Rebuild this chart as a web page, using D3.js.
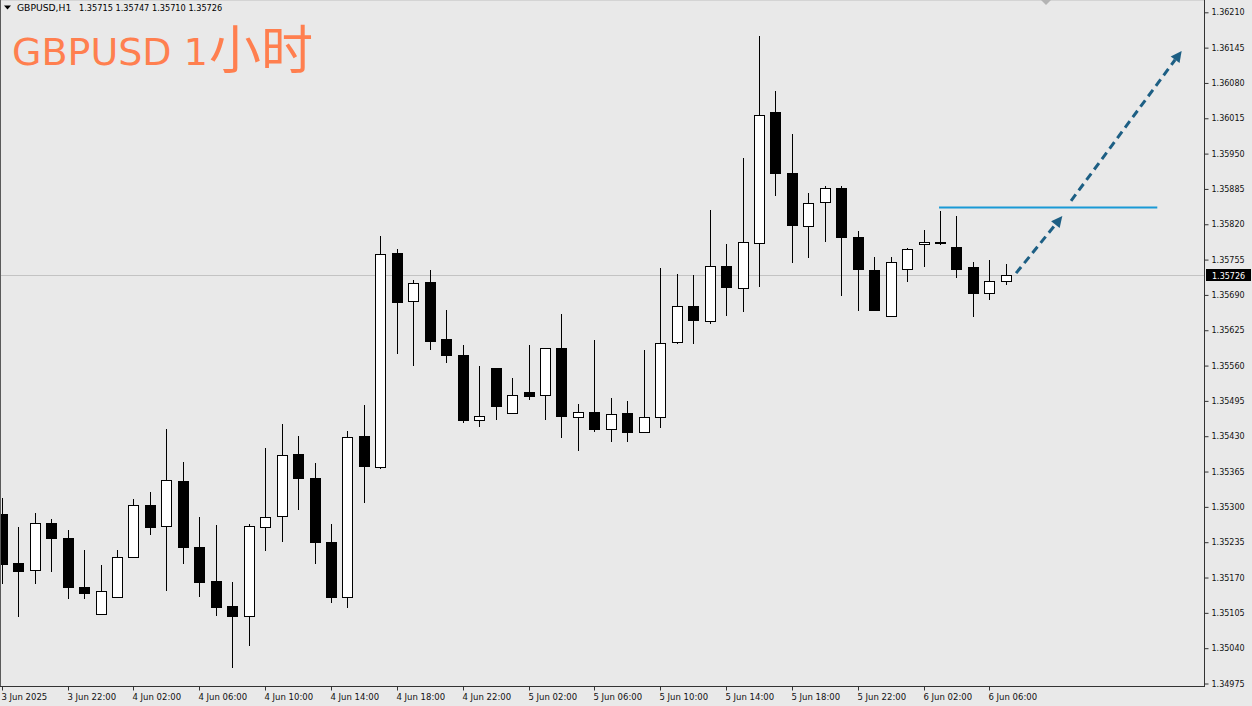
<!DOCTYPE html>
<html>
<head>
<meta charset="utf-8">
<script src="https://cdn.jsdelivr.net/npm/d3@7"></script>
<style>
  html, body { margin: 0; padding: 0; background: #e9e9e9; }
  svg { display: block; }
</style>
</head>
<body>
<script>
// ---------- DATA ----------
const opens = [1.35286,1.35196,1.35184,1.35270,1.35242,1.35152,1.35103,1.35134,1.35207,1.35303,
1.35264,1.35348,1.35227,1.35164,1.35117,1.35099,1.35263,1.35283,1.35398,1.35354,
1.35236,1.35135,1.35430,1.35374,1.35767,1.35678,1.35713,1.35608,1.35579,1.35459,
1.35555,1.35473,1.35511,1.35505,1.35593,1.35465,1.35474,1.35444,1.35472,1.35437,
1.35465,1.35603,1.35669,1.35642,1.35744,1.35702,1.35786,1.36027,1.35915,1.35816,
1.35861,1.35887,1.35796,1.35735,1.35651,1.35737,1.35783,1.35787,1.35778,1.35742,
1.35693,1.35715];
const highs = [1.35316,1.35263,1.35289,1.35278,1.35257,1.35221,1.35193,1.35221,1.35314,1.35328,
1.35443,1.35382,1.35282,1.35266,1.35161,1.35269,1.35409,1.35452,1.35431,1.35380,
1.35269,1.35439,1.35487,1.35798,1.35775,1.35718,1.35736,1.35662,1.35597,1.35559,
1.35555,1.35538,1.35597,1.35593,1.35654,1.35489,1.35607,1.35500,1.35494,1.35588,
1.35739,1.35728,1.35726,1.35846,1.35783,1.35942,1.36166,1.36065,1.35986,1.35877,
1.35891,1.35891,1.35807,1.35760,1.35760,1.35777,1.35809,1.35845,1.35836,1.35750,
1.35754,1.35747];
const lows = [1.35160,1.35099,1.35159,1.35182,1.35133,1.35133,1.35103,1.35134,1.35207,1.35250,
1.35147,1.35197,1.35136,1.35101,1.35005,1.35045,1.35220,1.35237,1.35296,1.35196,
1.35125,1.35116,1.35309,1.35372,1.35584,1.35561,1.35590,1.35567,1.35457,1.35449,
1.35462,1.35473,1.35498,1.35462,1.35428,1.35404,1.35440,1.35422,1.35422,1.35437,
1.35447,1.35602,1.35602,1.35638,1.35653,1.35660,1.35706,1.35873,1.35751,1.35760,
1.35789,1.35690,1.35662,1.35662,1.35651,1.35715,1.35744,1.35783,1.35723,1.35651,
1.35682,1.35710];
const closes = [1.35194,1.35182,1.35270,1.35243,1.35152,1.35142,1.35145,1.35208,1.35304,1.35263,
1.35350,1.35226,1.35161,1.35116,1.35099,1.35265,1.35282,1.35395,1.35353,1.35235,
1.35135,1.35429,1.35376,1.35765,1.35677,1.35711,1.35605,1.35580,1.35459,1.35467,
1.35486,1.35506,1.35504,1.35593,1.35467,1.35474,1.35443,1.35470,1.35437,1.35465,
1.35602,1.35670,1.35643,1.35744,1.35704,1.35788,1.36021,1.35915,1.35818,1.35860,
1.35886,1.35797,1.35737,1.35662,1.35750,1.35775,1.35788,1.35786,1.35738,1.35693,
1.35716,1.35726];

const priceTicks = [1.36210,1.36145,1.36080,1.36015,1.35950,1.35885,1.35820,1.35755,1.35690,
1.35625,1.35560,1.35495,1.35430,1.35365,1.35300,1.35235,1.35170,1.35105,1.35040,1.34975];
const timeTickBars = [0,4,8,12,16,20,24,28,32,36,40,44,48,52,56,60];
const timeTickLabels = ["3 Jun 2025","3 Jun 22:00","4 Jun 02:00","4 Jun 06:00","4 Jun 10:00",
"4 Jun 14:00","4 Jun 18:00","4 Jun 22:00","5 Jun 02:00","5 Jun 06:00","5 Jun 10:00",
"5 Jun 14:00","5 Jun 18:00","5 Jun 22:00","6 Jun 02:00","6 Jun 06:00"];

const symbolText = "GBPUSD,H1";
const lastBarText = "1.35715 1.35747 1.35710 1.35726";
const titleLatin = "GBPUSD 1";
const titleCJK = "小时";
const currentPrice = 1.35726;
// horizontal resistance level: [startBar, endBar, price]
const levelLine = [56.94, 70.2, 1.35851];
// dashed forecast arrows: [bar0, price0, bar1, price1]
const arrows = [
  [61.62, 1.35730, 64.43, 1.35835],
  [64.96, 1.35863, 71.68, 1.36139]
];

// ---------- LAYOUT ----------
const W = 1252, H = 706;
const plotRight = 1204, plotBottom = 686;
const svg = d3.select("body").append("svg").attr("width", W).attr("height", H);
svg.append("rect").attr("width", W).attr("height", H).attr("fill", "#e9e9e9");

const x = d3.scaleLinear().domain([0, 60]).range([1.8, 1.8 + 60 * 16.46]);
const y = d3.scaleLinear().domain([1.36210, 1.34975]).range([12.3, 683.5]);

const plot = svg.append("g");
plot.append("clipPath").attr("id", "clip").append("rect")
  .attr("x", 0).attr("y", 0).attr("width", plotRight).attr("height", plotBottom);
const g = plot.append("g").attr("clip-path", "url(#clip)");

// current price line
g.append("line").attr("x1", 0).attr("x2", plotRight)
  .attr("y1", Math.round(y(currentPrice)) + 0.5).attr("y2", Math.round(y(currentPrice)) + 0.5)
  .attr("stroke", "#c3c3c3").attr("stroke-width", 1);

// candles
const idx = d3.range(opens.length);
const cx = i => Math.round(x(i));
const snap = v => Math.round(v) + 0.5;

g.selectAll("line.wick").data(idx).join("line").attr("class", "wick")
  .attr("x1", i => cx(i) + 0.5).attr("x2", i => cx(i) + 0.5)
  .attr("y1", i => Math.round(y(highs[i]))).attr("y2", i => Math.round(y(lows[i])) + 1)
  .attr("stroke", "#000").attr("stroke-width", 1);

g.selectAll("rect.body").data(idx).join("rect").attr("class", "body")
  .attr("x", i => cx(i) - 4.5)
  .attr("width", 10)
  .attr("y", i => snap(y(Math.max(opens[i], closes[i]))))
  .attr("height", i => Math.max(0, snap(y(Math.min(opens[i], closes[i]))) - snap(y(Math.max(opens[i], closes[i])))))
  .attr("fill", i => closes[i] >= opens[i] ? "#ffffff" : "#000000")
  .attr("stroke", "#000").attr("stroke-width", 1);

// resistance level
g.append("line")
  .attr("x1", x(levelLine[0])).attr("x2", x(levelLine[1]))
  .attr("y1", y(levelLine[2])).attr("y2", y(levelLine[2]))
  .attr("stroke", "#1a9ad6").attr("stroke-width", 2);

// dashed arrows
const arrowColor = "#1d5f84";
arrows.forEach(a => {
  const x0 = x(a[0]), y0 = y(a[1]), x1 = x(a[2]), y1 = y(a[3]);
  const ang = Math.atan2(y1 - y0, x1 - x0);
  const headL = 11, headW = 5.5;
  const bx = x1 - headL * Math.cos(ang), by = y1 - headL * Math.sin(ang);
  g.append("line").attr("x1", x0).attr("y1", y0).attr("x2", bx).attr("y2", by)
    .attr("stroke", arrowColor).attr("stroke-width", 3).attr("stroke-dasharray", "8,5");
  const px = -Math.sin(ang), py = Math.cos(ang);
  g.append("path")
    .attr("d", `M${x1},${y1}L${bx + px * headW},${by + py * headW}L${bx - px * headW},${by - py * headW}Z`)
    .attr("fill", arrowColor);
});

// borders
svg.append("line").attr("x1", 0).attr("x2", plotRight).attr("y1", 0.5).attr("y2", 0.5)
  .attr("stroke", "#d4d4d4");
svg.append("line").attr("x1", 0.5).attr("x2", 0.5).attr("y1", 0).attr("y2", plotBottom)
  .attr("stroke", "#5a5a5a");
svg.append("line").attr("x1", 0).attr("x2", plotRight + 1).attr("y1", plotBottom + 0.5).attr("y2", plotBottom + 0.5)
  .attr("stroke", "#333");
svg.append("line").attr("x1", plotRight + 0.5).attr("x2", plotRight + 0.5).attr("y1", 0).attr("y2", plotBottom + 1)
  .attr("stroke", "#333");

// shift marker triangle at top
svg.append("path").attr("d", "M1041,0L1051,0L1046,5Z").attr("fill", "#b4b4b4");

// y axis (right)
const yAxis = d3.axisRight(y).tickValues(priceTicks).tickFormat(d3.format(".5f"))
  .tickSize(4).tickPadding(3);
const ya = svg.append("g").attr("transform", `translate(${plotRight + 0.5},0)`).call(yAxis);
ya.select(".domain").remove();
ya.selectAll(".tick line").attr("stroke", "#333");
ya.selectAll(".tick text").attr("font-family", "DejaVu Sans").attr("font-size", 8).attr("fill", "#111");

// x axis (bottom)
const xAxis = d3.axisBottom(x).tickValues(timeTickBars)
  .tickFormat((d, i) => timeTickLabels[i]).tickSize(4).tickPadding(3);
const xa = svg.append("g").attr("transform", `translate(0.5,${plotBottom + 0.5})`).call(xAxis);
xa.select(".domain").remove();
xa.selectAll(".tick").attr("transform", d => `translate(${cx(d)},0)`);
xa.selectAll(".tick line").attr("stroke", "#333");
xa.selectAll(".tick text").attr("text-anchor", "start").attr("x", -1)
  .attr("font-family", "DejaVu Sans").attr("font-size", 8.5).attr("fill", "#111");

// current price label
const cpY = Math.round(y(currentPrice)) + 0.5;
svg.append("rect").attr("x", plotRight + 2).attr("y", cpY - 6.5).attr("width", W - plotRight - 3).attr("height", 12)
  .attr("fill", "#000");
svg.append("text").attr("x", plotRight + 8).attr("y", cpY + 3)
  .attr("font-family", "DejaVu Sans").attr("font-size", 8).attr("fill", "#fff")
  .text(d3.format(".5f")(currentPrice));

// header
svg.append("path").attr("d", "M4,5.5L11,5.5L7.5,9.5Z").attr("fill", "#000");
svg.append("text").attr("x", 17).attr("y", 11).attr("font-family", "DejaVu Sans")
  .attr("font-size", 9.2).attr("fill", "#000").text(symbolText);
svg.append("text").attr("x", 79).attr("y", 11).attr("font-family", "DejaVu Sans")
  .attr("font-size", 8.2).attr("fill", "#000").text(lastBarText);

// big title
const t = svg.append("text").attr("x", 12).attr("y", 65).attr("fill", "#ff7f4f");
t.append("tspan").attr("font-family", "DejaVu Sans").attr("font-size", 38).text(titleLatin);
t.append("tspan").attr("font-family", "Noto Sans CJK SC").attr("font-weight", 400)
  .attr("font-size", 52).attr("dx", 1).attr("dy", 4).text(titleCJK);
</script>
</body>
</html>
